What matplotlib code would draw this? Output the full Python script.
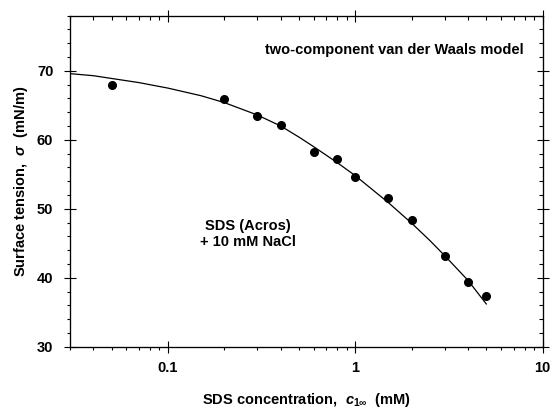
import numpy as np
import matplotlib.pyplot as plt
from matplotlib.ticker import LogLocator, MultipleLocator, FixedLocator, NullFormatter

plt.rcParams['font.family'] = ['Liberation Sans', 'DejaVu Sans']
plt.rcParams['font.weight'] = 'bold'
plt.rcParams['axes.labelweight'] = 'bold'
plt.rcParams['mathtext.fontset'] = 'custom'
plt.rcParams['mathtext.rm'] = 'Liberation Sans:bold'
plt.rcParams['mathtext.bf'] = 'Liberation Sans:bold'
plt.rcParams['mathtext.it'] = 'Liberation Sans:bold:italic'

# measured surface tension (SDS + 10 mM NaCl)
conc = [0.05, 0.2, 0.3, 0.4, 0.6, 0.8, 1.0, 1.5, 2.0, 3.0, 4.0, 5.0]
sigma = [67.9, 65.9, 63.4, 62.2, 58.2, 57.2, 54.6, 51.6, 48.4, 43.2, 39.4, 37.3]

# model curve
fit_c = [0.03, 0.04, 0.05, 0.07, 0.1, 0.15, 0.2, 0.3, 0.4, 0.5, 0.6, 0.8, 1.0,
         1.5, 2.0, 2.5, 3.0, 4.0, 5.0]
fit_s = [69.6, 69.3, 68.9, 68.3, 67.5, 66.4, 65.4, 63.6, 62.0, 60.4, 59.0, 56.7, 54.8,
         50.9, 47.9, 45.4, 43.2, 39.6, 36.2]

fig = plt.figure(figsize=(5.55, 4.09), dpi=100)
ax = fig.add_axes([0.1261, 0.1523, 0.8517, 0.8093])

ax.plot(fit_c, fit_s, color='black', lw=0.9)
ax.plot(conc, sigma, 'o', color='black', ms=5.5)

ax.set_xscale('log')
ax.set_xlim(0.03, 10)
ax.set_ylim(30, 78)

ax.xaxis.set_major_locator(FixedLocator([0.1, 1, 10]))
ax.set_xticklabels(['0.1', '1', '10'])
ax.xaxis.set_minor_locator(LogLocator(base=10, subs=np.arange(2, 10)))
ax.xaxis.set_minor_formatter(NullFormatter())
ax.yaxis.set_major_locator(FixedLocator([30, 40, 50, 60, 70]))
ax.yaxis.set_minor_locator(MultipleLocator(2))

ax.tick_params(which='major', direction='inout', length=8, width=0.8,
               labelsize=10.5, pad=6)
ax.tick_params(which='minor', direction='out', length=2.5, width=0.8)
ax.tick_params(axis='y', which='major', pad=8)

# top and right ticks point inward
axt = ax.twiny()
axt.set_xscale('log')
axt.set_xlim(ax.get_xlim())
axt.xaxis.set_major_locator(FixedLocator([0.1, 1, 10]))
axt.xaxis.set_minor_locator(LogLocator(base=10, subs=np.arange(2, 10)))
axt.tick_params(which='major', direction='inout', length=8, width=0.8, labeltop=False)
axt.tick_params(which='minor', direction='in', length=3, width=0.8)
axt.xaxis.set_minor_formatter(NullFormatter())

axr = ax.twinx()
axr.set_ylim(ax.get_ylim())
axr.yaxis.set_major_locator(FixedLocator([30, 40, 50, 60, 70]))
axr.yaxis.set_minor_locator(MultipleLocator(2))
axr.tick_params(which='major', direction='inout', length=8, width=0.8, labelright=False)
axr.tick_params(which='minor', direction='in', length=3, width=0.8)

for a in (ax, axt, axr):
    for s in a.spines.values():
        s.set_linewidth(0.8)

ax.set_xlabel(r'SDS concentration,  $c_{1\infty}$  (mM)', fontsize=10.5,
              fontweight='bold', labelpad=12)
ax.set_ylabel(r'Surface tension,  $\sigma$  (mN/m)', fontsize=10.5,
              fontweight='bold', labelpad=5)

ax.text(0.959, 0.896, 'two-component van der Waals model', transform=ax.transAxes,
        ha='right', va='center', fontsize=10.5, fontweight='bold')
ax.text(0.3755, 0.3405, 'SDS (Acros)\n+ 10 mM NaCl', transform=ax.transAxes,
        ha='center', va='center', fontsize=10.5, fontweight='bold',
        linespacing=1.1)

fig.savefig('out.png', dpi=100)
